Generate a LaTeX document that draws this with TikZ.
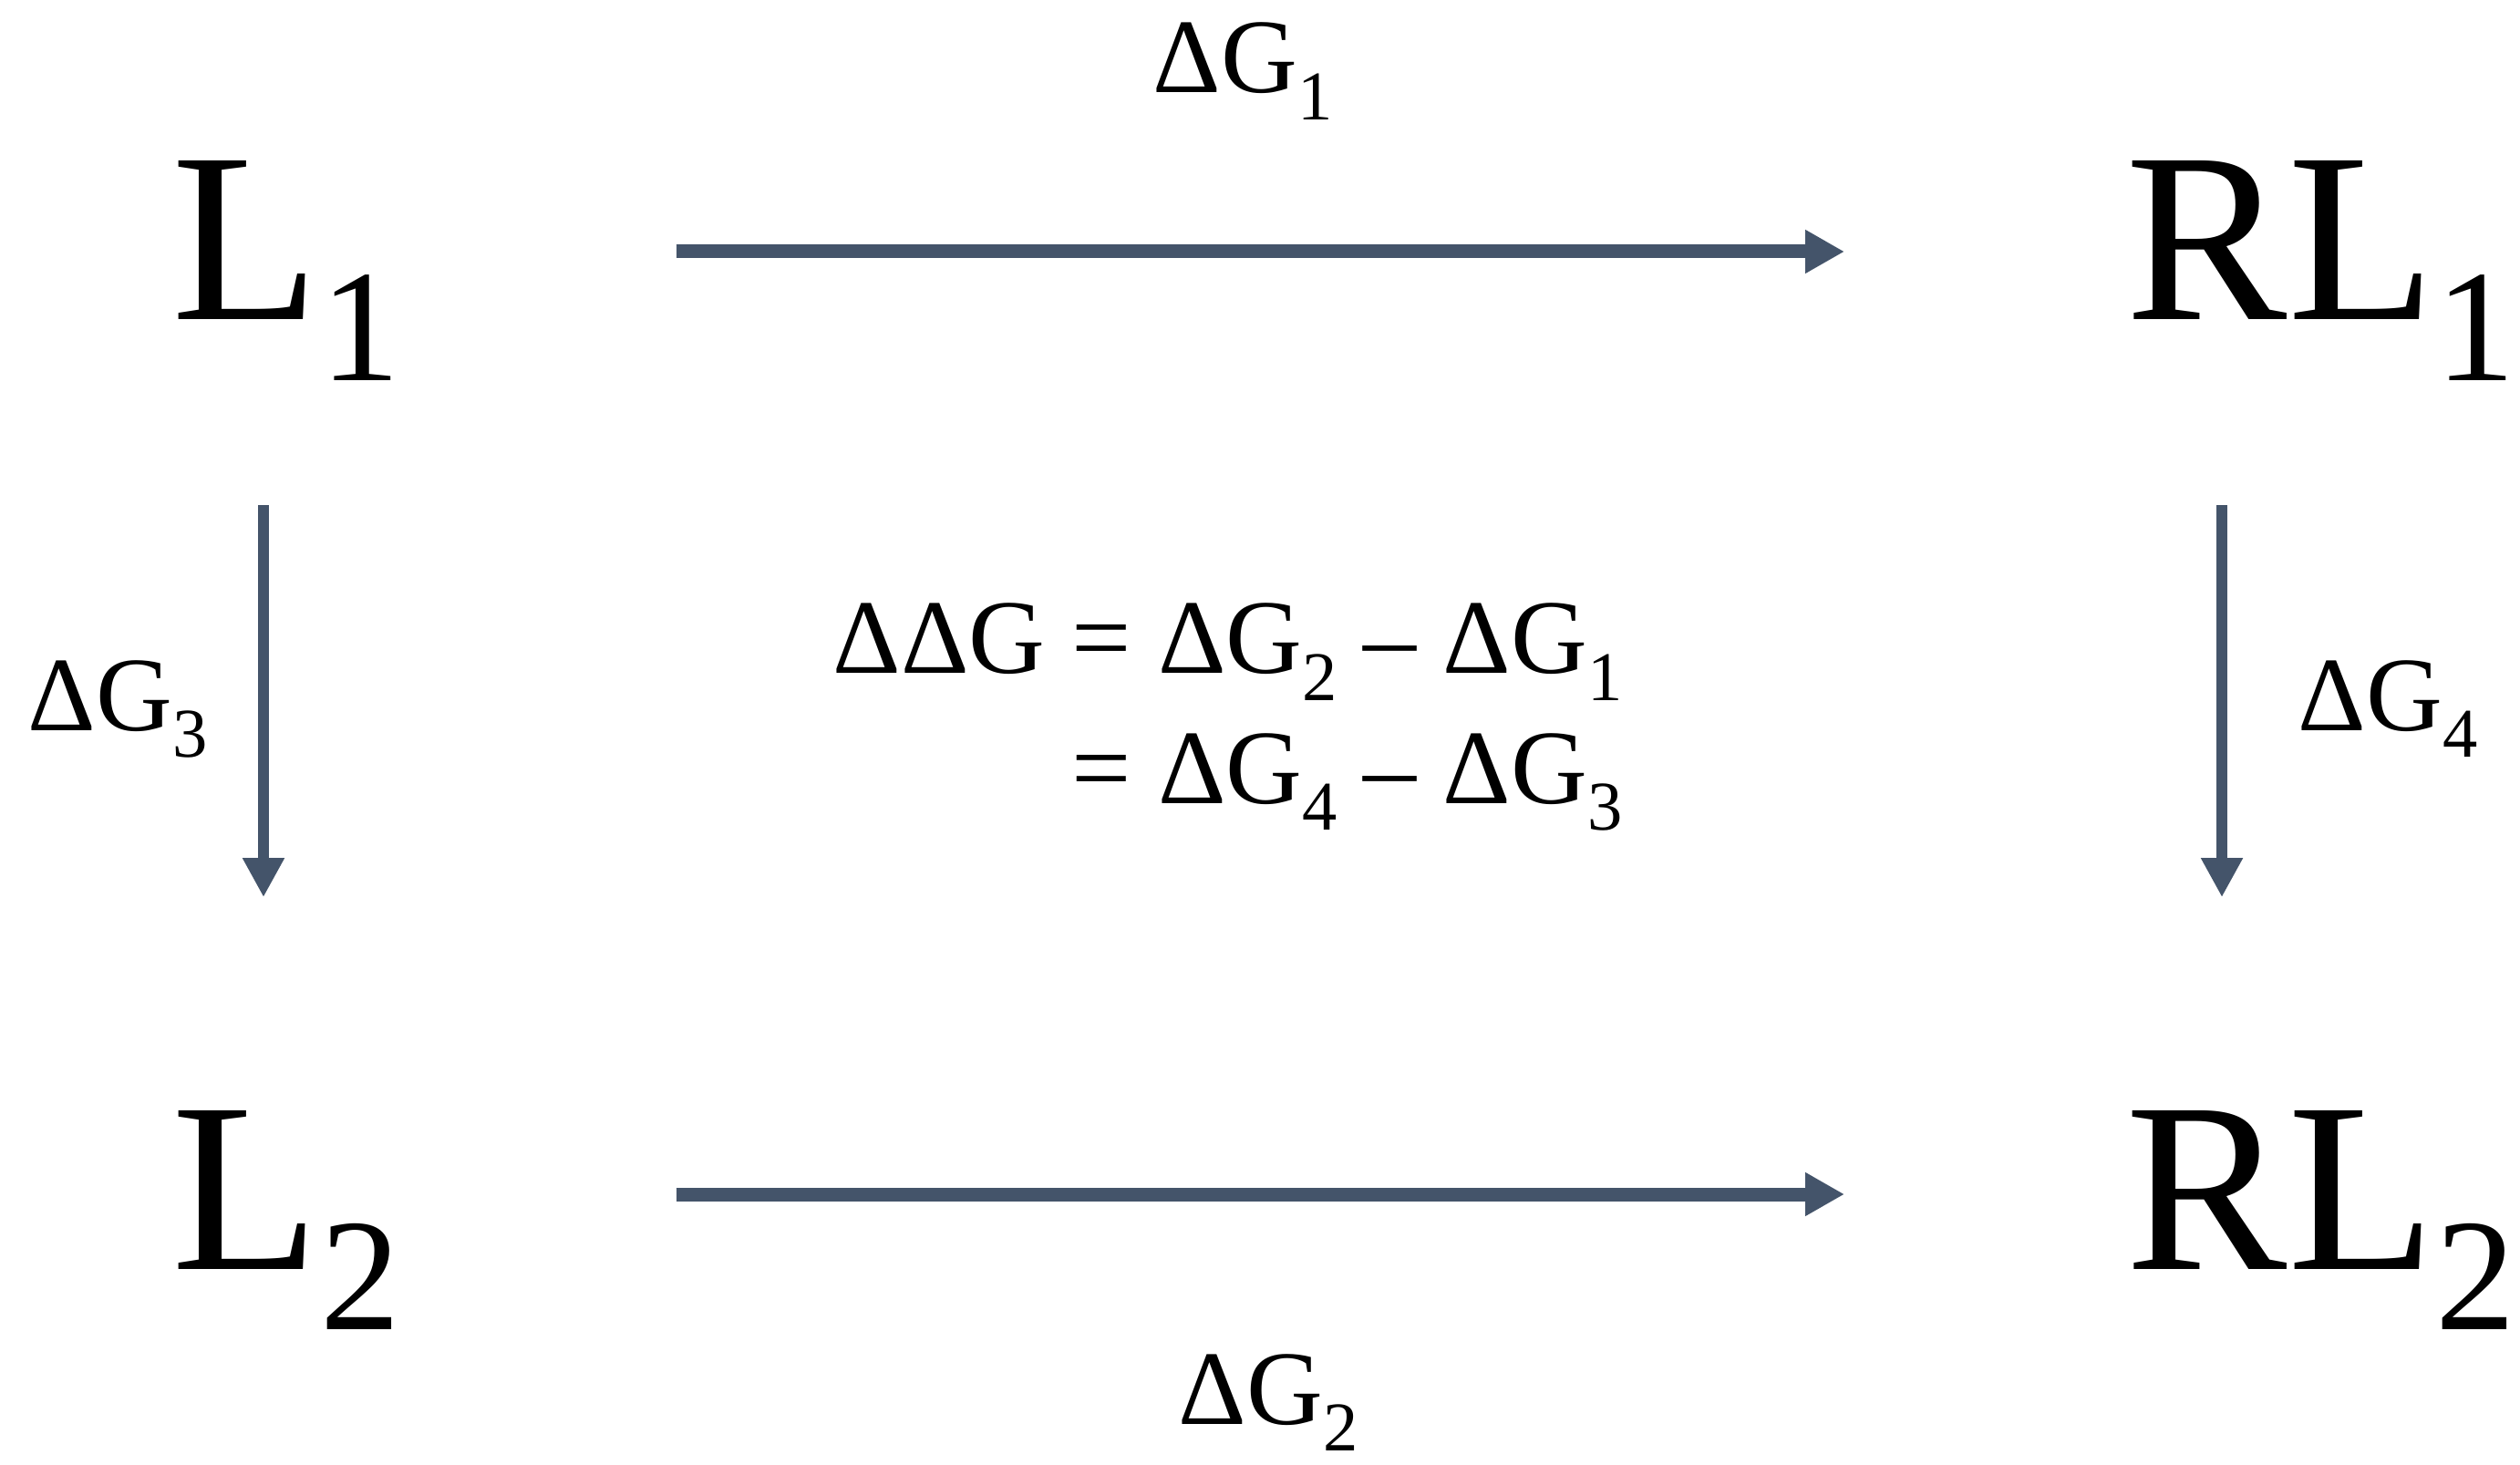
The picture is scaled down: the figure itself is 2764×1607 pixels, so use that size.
\documentclass[tikz,border=0pt]{standalone}
\usepackage{fontspec}
\setmainfont{LiberationSerif-Regular.ttf}
\usetikzlibrary{arrows.meta}
\definecolor{slate}{HTML}{44546A}
\newcommand\subs[1]{\raisebox{-0.25em}{\scalebox{0.66}{#1}}}

\begin{document}
\begin{tikzpicture}[x=0.01cm,y=-0.01cm,
  state/.style={anchor=base west,inner sep=0,font=\fontsize{75.6}{90}\selectfont},
  dg/.style={anchor=base west,inner sep=0,font=\fontsize{33}{40}\selectfont},
  flow/.style={-{Triangle[length=0.43cm,width=0.45cm]},slate,line width=0.15cm},
  drop/.style={-{Triangle[length=0.43cm,width=0.43cm]},slate,line width=0.12cm}]
\useasboundingbox (0,0) rectangle (2764,1607);

% the four states
\node[state] (L1) at (188,351) {L\subs{1}};
\node[state] (RL1) at (2331,351) {RL\subs{1}};
\node[state] (L2) at (188,1392) {L\subs{2}};
\node[state] (RL2) at (2331,1392) {RL\subs{2}};

% free energies
\node[dg] (g1) at (1264,102) {ΔG\subs{1}};
\node[dg] (g2) at (1292,1562) {ΔG\subs{2}};
\node[dg] (g3) at (30,801) {ΔG\subs{3}};
\node[dg] (g4) at (2520,801) {ΔG\subs{4}};

\node[dg] (eqtop) at (913,739) {ΔΔG = ΔG\subs{2} – ΔG\subs{1}};
\node[dg] (eqbot) at (913,881) {\hphantom{ΔΔG }= ΔG\subs{4} – ΔG\subs{3}};

\draw[flow] ([shift={(302,-75)}]L1.base east) -- ([shift={(-308,-75)}]RL1.base west);
\draw[flow] ([shift={(302,-82)}]L2.base east) -- ([shift={(-308,-82)}]RL2.base west);

\draw[drop] ([shift={(101,136)}]L1.south west) -- ([shift={(101,-233)}]L2.north west);
\draw[drop] ([shift={(106,136)}]RL1.south west) -- ([shift={(106,-233)}]RL2.north west);
\end{tikzpicture}
\end{document}
